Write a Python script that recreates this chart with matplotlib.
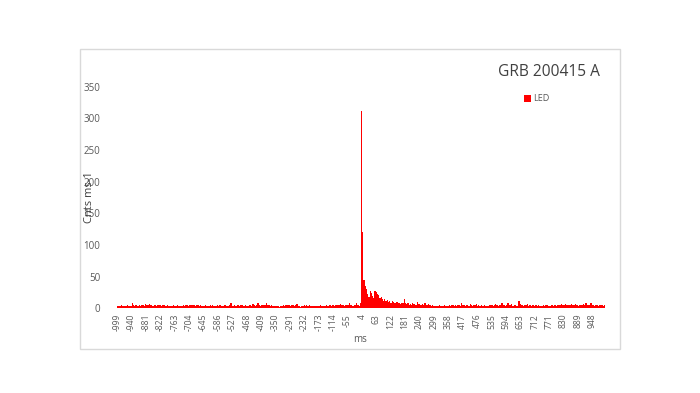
import matplotlib
matplotlib.use("Agg")
import matplotlib.pyplot as plt
import numpy as np
from matplotlib.patches import Rectangle

plt.rcParams['font.family'] = ['Open Sans', 'DejaVu Sans']

title = "GRB 200415 A"
series_name = "LED"
x_label = "ms"
y_label = "Cnts ms-1"

# 5 ms bins, start times from -1000 ms to 995 ms
bin_width = 5
bin_start = -1000
counts = [
    # -1000 .. -905
    3, 4, 3, 5, 4, 3, 4, 3, 5, 4, 3, 4, 9, 6, 4, 5, 4, 3, 5, 4,
    # -900 .. -805
    5, 6, 4, 7, 5, 6, 7, 5, 6, 4, 5, 6, 4, 5, 6, 5, 4, 6, 5, 4,
    # -800 .. -705
    4, 5, 3, 4, 3, 4, 5, 4, 3, 5, 4, 3, 4, 3, 5, 4, 6, 5, 4, 5,
    # -700 .. -605
    6, 5, 6, 5, 4, 6, 5, 4, 5, 4, 3, 4, 5, 4, 3, 4, 5, 4, 6, 4,
    # -600 .. -505
    3, 4, 5, 4, 6, 4, 3, 4, 5, 4, 3, 4, 5, 9, 4, 3, 5, 4, 6, 5,
    # -500 .. -405
    4, 6, 5, 4, 3, 5, 4, 3, 6, 5, 4, 7, 5, 4, 6, 8, 5, 4, 6, 5,
    # -400 .. -305
    6, 5, 9, 6, 5, 4, 5, 4, 3, 4, 3, 4, 3, 2, 3, 4, 5, 3, 6, 5,
    # -300 .. -205
    6, 5, 4, 5, 6, 4, 5, 7, 4, 3, 2, 3, 4, 5, 3, 6, 4, 5, 3, 4,
    # -200 .. -105
    3, 4, 3, 4, 3, 4, 5, 3, 4, 3, 4, 5, 4, 3, 5, 4, 6, 5, 4, 6,
    # -100 .. -5
    5, 6, 5, 7, 6, 5, 4, 6, 5, 6, 9, 6, 5, 4, 6, 5, 8, 6, 4, 9,
    # 0 .. 95
    312, 121, 45, 36, 30, 22, 18, 27, 24, 20, 17, 28, 26, 22, 21, 16, 18, 14, 12, 15,
    # 100 .. 195
    11, 13, 10, 12, 9, 11, 10, 9, 8, 10, 9, 8, 7, 9, 8, 14, 8, 7, 9, 6,
    # 200 .. 295
    7, 6, 8, 7, 5, 6, 10, 7, 6, 5, 7, 6, 8, 5, 6, 7, 5, 4, 5, 3,
    # 300 .. 395
    3, 4, 3, 4, 5, 4, 3, 4, 5, 4, 3, 4, 5, 4, 5, 6, 4, 5, 4, 5,
    # 400 .. 495
    5, 4, 8, 6, 5, 4, 6, 5, 4, 7, 5, 4, 6, 5, 7, 4, 5, 4, 6, 4,
    # 500 .. 595
    4, 5, 4, 3, 4, 5, 6, 5, 4, 6, 7, 5, 4, 6, 5, 8, 6, 5, 4, 6,
    # 600 .. 695
    9, 6, 5, 7, 4, 6, 5, 3, 4, 12, 7, 6, 5, 4, 6, 5, 7, 4, 5, 4,
    # 700 .. 795
    5, 6, 4, 5, 3, 5, 4, 3, 4, 5, 4, 6, 5, 4, 3, 4, 5, 4, 5, 6,
    # 800 .. 895
    4, 5, 6, 5, 7, 6, 5, 7, 6, 5, 6, 5, 7, 6, 5, 7, 5, 6, 4, 5,
    # 900 .. 995
    6, 5, 7, 6, 8, 5, 6, 5, 9, 6, 5, 4, 6, 5, 4, 5, 6, 5, 4, 5,
]

x_ticks = [-999, -940, -881, -822, -763, -704, -645, -586, -527, -468,
           -409, -350, -291, -232, -173, -114, -55, 4, 63, 122, 181, 240,
           299, 358, 417, 476, 535, 594, 653, 712, 771, 830, 889, 948]
y_ticks = [0, 50, 100, 150, 200, 250, 300, 350]

W, H = 700, 393
fig = plt.figure(figsize=(W / 100, H / 100), dpi=100)

# outer chart-area border
fig.patches.append(Rectangle((80 / W, 1 - 349 / H), 540 / W, 300 / H,
                             transform=fig.transFigure, fill=False,
                             edgecolor='#d9d9d9', linewidth=1.0))

ax = fig.add_axes([117 / W, 1 - 308.3 / H, 488 / W, 221.6 / H])
starts = bin_start + bin_width * np.arange(len(counts))
ax.bar(starts, counts, width=bin_width, align='edge', color='#ff0000',
       edgecolor='none', linewidth=0, label=series_name, antialiased=False)

ax.set_xlim(-1000, 1000)
ax.set_ylim(0, 350)
for s in ax.spines.values():
    s.set_visible(False)

ax.set_xticks(x_ticks)
ax.set_xticklabels([str(t) for t in x_ticks], rotation=90, fontsize=6.2,
                   color='#595959')
ax.set_yticks(y_ticks)
ax.set_yticklabels([str(t) for t in y_ticks], fontsize=7, color='#595959')
ax.tick_params(axis='x', length=0, pad=4)
ax.tick_params(axis='y', length=0, pad=12)

fig.text(549 / W, 1 - 72 / H, title, ha='center', va='center',
         fontsize=11.2, color='#404040')
fig.text(360 / W, 1 - 340 / H, x_label, ha='center', va='center',
         fontsize=7, color='#595959')
fig.text(90 / W, 1 - 197 / H, y_label, ha='center', va='center',
         rotation=90, fontsize=8, color='#404040')

# legend
fig.patches.append(Rectangle((524 / W, 1 - 101.5 / H), 7 / W, 6.5 / H,
                             transform=fig.transFigure, facecolor='#ff0000',
                             edgecolor='none'))
fig.text(533 / W, 1 - 98.5 / H, series_name, ha='left', va='center',
         fontsize=6.5, color='#595959')

fig.savefig("out.png", dpi=100)
